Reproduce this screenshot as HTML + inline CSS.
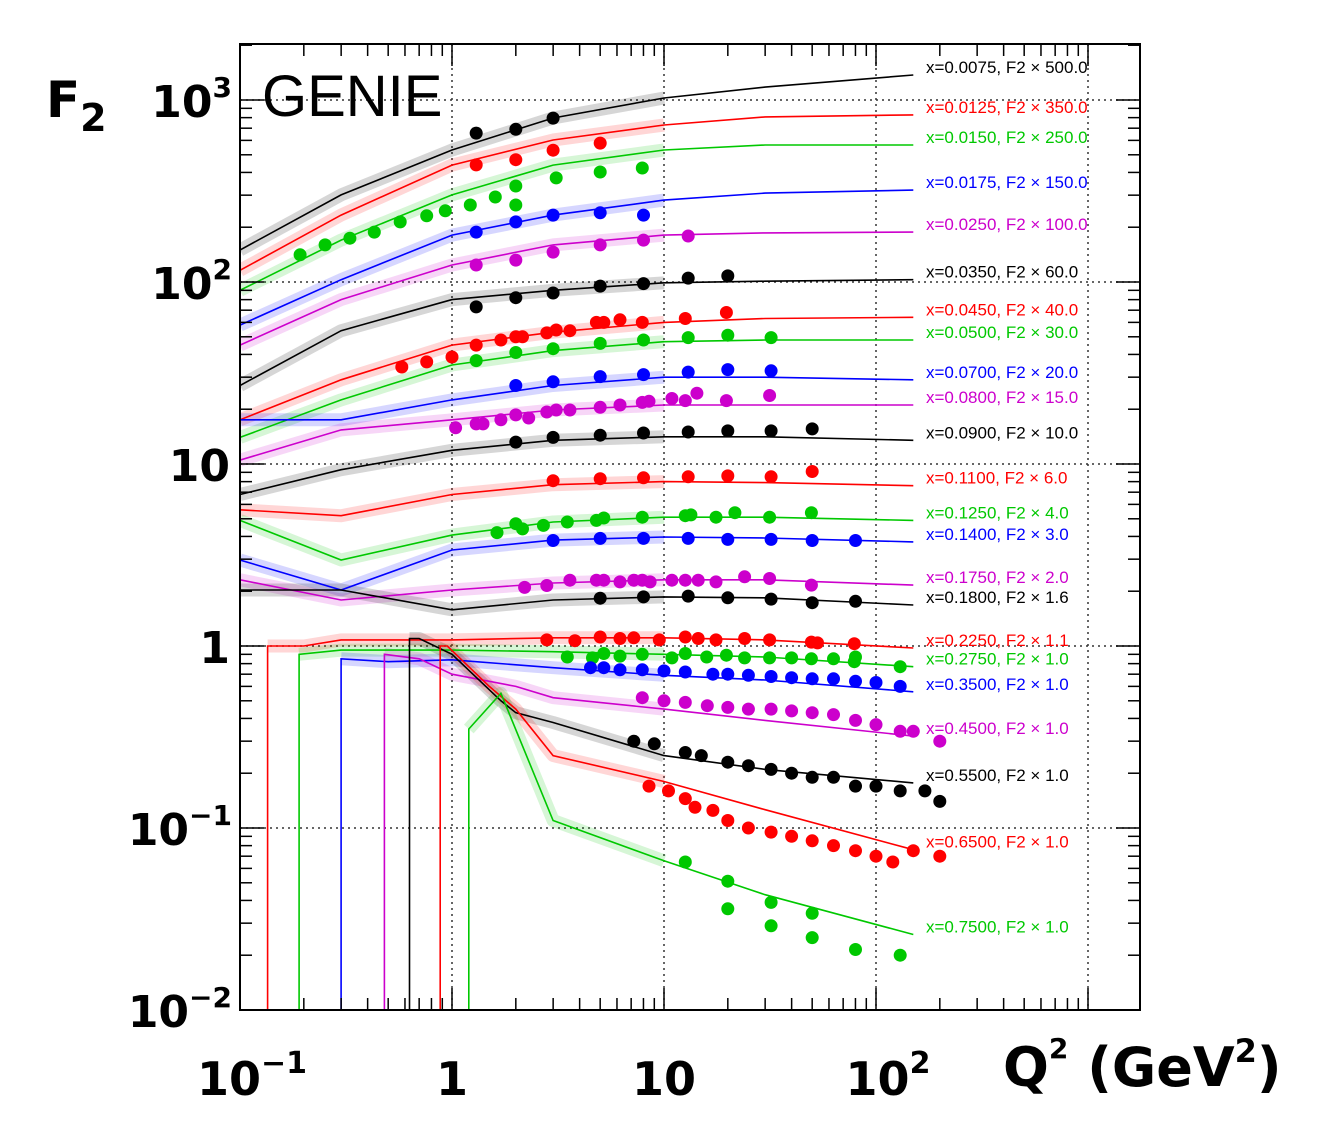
<!DOCTYPE html>
<html><head><meta charset="utf-8"><style>
body{margin:0;background:#fff;}
svg{display:block;font-family:"Liberation Sans","DejaVu Sans",sans-serif;}
.dj{font-family:"DejaVu Sans","Liberation Sans",sans-serif;}
</style></head><body>
<svg id="chart" width="1335" height="1122" viewBox="0 0 1335 1122">
<rect x="0" y="0" width="1335" height="1122" fill="#fff"/>
<defs><clipPath id="pc"><rect x="240" y="44" width="900" height="966"/></clipPath></defs>
<g id="grid"></g>
<g id="bands" clip-path="url(#pc)"></g>
<g id="curves" clip-path="url(#pc)"></g>
<g id="points" clip-path="url(#pc)"></g>
<g id="frame"></g>
<g id="labels"></g>
<text class="dj" x="46" y="117" font-size="50" font-weight="bold">F<tspan font-size="38" dy="14">2</tspan></text>
<text x="262" y="116" font-size="58">GENIE</text>
<text class="dj" x="1003" y="1086" font-size="54" font-weight="bold">Q<tspan font-size="28" dy="-28">2</tspan><tspan dy="28"> (GeV</tspan><tspan font-size="32" dy="-24">2</tspan><tspan dy="24">)</tspan></text>
</svg>
<script>
const colors=["#000","#ff0000","#00c800","#0000ff","#cc00cc"];
const xNames=["0.0075","0.0125","0.0150","0.0175","0.0250","0.0350","0.0450","0.0500","0.0700","0.0800","0.0900","0.1100","0.1250","0.1400","0.1750","0.1800","0.2250","0.2750","0.3500","0.4500","0.5500","0.6500","0.7500"];
const scales=["500.0","350.0","250.0","150.0","100.0","60.0","40.0","30.0","20.0","15.0","10.0","6.0","4.0","3.0","2.0","1.6","1.1","1.0","1.0","1.0","1.0","1.0","1.0"];
const gridQ=[0.1,0.3,1,3,10,30,150];
const curveQ=[
gridQ,gridQ,gridQ,gridQ,gridQ,gridQ,gridQ,gridQ,gridQ,gridQ,gridQ,gridQ,gridQ,gridQ,gridQ,gridQ,
[0.135,0.135,0.2,0.3,1,3,10,30,150],
[0.19,0.19,0.3,1,3,10,30,150],
[0.3,0.3,0.5,1,3,10,30,150],
[0.48,0.48,0.7,1,2,3,10,30,150],
[0.63,0.63,0.7,1,1.7,2,3,10,30,150],
[0.88,0.88,0.95,1.5,2,3,10,30,150],
[1.2,1.2,1.7,3,10,30,150]];
const curveV=[
[150,301,531,796,1026,1178,1372],
[116,233,439,603,729,807,828],
[90,170,301,439,531,566,566],
[58,103,181,233,282,308,320],
[45,80,124,160,181,186,188],
[27,54,80,90,99,101,103],
[17.5,29,45,53,60,63,64],
[14,22.5,35,42,47,48,48],
[17.5,17.5,22.5,27,30,30,29],
[10.5,15.4,17.5,19.8,21.1,21.1,21.1],
[6.8,9.3,11.9,13.5,14.1,14.1,13.5],
[5.6,5.2,6.8,7.7,8.0,7.9,7.6],
[4.9,2.97,4.07,4.8,5.1,5.1,4.9],
[2.97,2.03,3.37,3.82,3.97,3.92,3.73],
[2.31,1.79,2.03,2.22,2.31,2.31,2.16],
[2.03,2.03,1.58,1.79,1.86,1.84,1.68],
[0.005,1.0,1.0,1.08,1.08,1.11,1.11,1.08,0.975],
[0.005,0.9,0.95,0.95,0.93,0.90,0.87,0.77],
[0.005,0.85,0.82,0.84,0.76,0.69,0.65,0.56],
[0.005,0.9,0.85,0.7,0.6,0.52,0.45,0.39,0.32],
[0.005,1.1,1.1,0.9,0.5,0.43,0.38,0.25,0.21,0.177],
[0.005,1.0,1.0,0.6,0.45,0.25,0.18,0.126,0.076],
[0.005,0.35,0.55,0.11,0.066,0.043,0.026]];
const dataQ=[
[1.3,2,3],
[1.3,2,3,5],
[0.192,0.252,0.33,0.43,0.57,0.76,0.93,1.22,1.6,2,2,3.1,5,7.9],
[1.3,2,3,5,8],
[1.3,2,3,5,8,13],
[1.3,2,3,5,8,13,20],
[0.58,0.76,1,1.3,1.7,2,2.15,2.8,3.1,3.6,4.8,5.2,6.2,7.9,12.6,19.7],
[1.3,2,3,5,8,13,20,32],
[2,3,5,8,13,20,32],
[1.04,1.3,1.4,1.7,2,2.3,2.8,3.1,3.6,5,6.2,7.9,8.5,10.9,12.6,14.3,19.7,31.5],
[2,3,5,8,13,20,32,50],
[3,5,8,13,20,32,50],
[1.63,2,2.15,2.7,3.5,4.8,5.2,7.9,12.6,13.4,17.6,21.6,31.5,49.6],
[3,5,8,13,20,32,50,80],
[2.2,2.8,3.6,4.8,5.2,6.2,7.2,7.9,8.6,10.9,12.6,14.5,17.6,24,31.5,49.6],
[5,8,13,20,32,50,80],
[2.8,3.8,5,6.2,7.2,9.5,12.6,14.5,17.6,24,31.5,49.6,53,79],
[3.5,4.6,5.2,6.2,7.9,10.9,12.6,15.9,19.7,24,31.5,40,49.6,63,79,80,130],
[4.5,5.2,6.2,7.9,10,12.6,17,20,25,32,40,50,63,80,100,130],
[7.9,10,12.6,16,20,25,32,40,50,63,80,100,130,150,200],
[7.2,9,12.6,15,20,25,32,40,50,63,80,100,130,170,200],
[8.5,10.5,12.6,14,17,20,25,32,40,50,63,80,100,120,150,200],
[12.6,20,20,32,32,50,50,80,130]];
const dataV=[
[658,690,795],
[440,470,530,580],
[141,160,174,188,214,231,246,265,293,337,265,373,402,423],
[188,214,233,240,233],
[124,132,146,160,170,179],
[73,82,87,95,98,105,108],
[34.1,36.4,38.7,45,48,50,50,52.5,54.5,54,60,60,62,60,63,68],
[37,41,43,46,48,49.5,51,49.5],
[27,28.3,30.2,31,32,33,32.5],
[15.8,16.6,16.6,17.5,18.6,17.9,19.3,19.8,19.8,20.5,21.1,21.8,22.1,22.9,22.3,24.5,22.3,23.8],
[13.2,14.0,14.4,14.8,15.0,15.2,15.2,15.6],
[8.1,8.3,8.4,8.5,8.6,8.5,9.1],
[4.2,4.7,4.4,4.6,4.8,4.9,5.05,5.1,5.2,5.25,5.1,5.4,5.1,5.4],
[3.8,3.9,3.9,3.9,3.85,3.85,3.8,3.8],
[2.1,2.15,2.3,2.3,2.3,2.25,2.3,2.3,2.25,2.3,2.3,2.3,2.25,2.4,2.35,2.16],
[1.83,1.86,1.88,1.84,1.81,1.73,1.76],
[1.08,1.07,1.12,1.1,1.11,1.08,1.12,1.1,1.08,1.1,1.08,1.05,1.04,1.03],
[0.87,0.86,0.91,0.88,0.90,0.86,0.91,0.87,0.89,0.86,0.86,0.86,0.85,0.85,0.82,0.87,0.77],
[0.76,0.76,0.74,0.74,0.73,0.72,0.70,0.70,0.69,0.68,0.67,0.66,0.66,0.64,0.63,0.6],
[0.52,0.5,0.49,0.47,0.46,0.45,0.45,0.44,0.43,0.42,0.39,0.37,0.34,0.34,0.30],
[0.30,0.29,0.26,0.25,0.23,0.22,0.21,0.20,0.19,0.19,0.17,0.17,0.16,0.16,0.14],
[0.17,0.16,0.145,0.13,0.125,0.11,0.10,0.095,0.09,0.085,0.08,0.075,0.07,0.065,0.075,0.07],
[0.065,0.051,0.036,0.039,0.029,0.034,0.025,0.0215,0.02]];
const xTickVals=[0.1,1,10,100];
const xTickLabels=[["10","−1"],["1",""],["10",""],["10","2"]];
const yTickVals=[1000,100,10,1,0.1,0.01];
const yTickLabels=[["10","3"],["10","2"],["10",""],["1",""],["10","−1"],["10","−2"]];

const X0=240,X1=1140,Y0=44,Y1=1010,DX=212,DY=182;
function xS(q){return X0+DX*(Math.log10(q)+1);}
function yS(v){return 100+DY*(3-Math.log10(v));}
const NS="http://www.w3.org/2000/svg";
function mk(tag,parent,attrs){const e=document.createElementNS(NS,tag);for(const k in attrs)e.setAttribute(k,attrs[k]);parent.appendChild(e);return e;}
const gGrid=document.getElementById('grid'),gB=document.getElementById('bands'),gC=document.getElementById('curves'),gP=document.getElementById('points'),gF=document.getElementById('frame'),gL=document.getElementById('labels'),svg=document.getElementById('chart');

for(let p=0;p<4;p++){const q=Math.pow(10,p);const x=xS(q);
 const l=mk('line',gGrid,{x1:x,x2:x,y1:Y0,y2:Y1,stroke:'#333','stroke-width':1.5,'stroke-dasharray':'2,4'});
 }
for(let p=-2;p<=3;p++){const y=yS(Math.pow(10,p));
 const l=mk('line',gGrid,{x1:X0,x2:X1,y1:y,y2:y,stroke:'#333','stroke-width':1.5,'stroke-dasharray':'2,4'});
 }

for(let i=0;i<curveQ.length;i++){
 const c=colors[i%5];
 const pts=curveQ[i].map((q,j)=>xS(q).toFixed(1)+','+yS(curveV[i][j]).toFixed(1));
 const bandPts=curveQ[i].map((q,j)=>[q,j]).filter(a=>a[0]<=10&&curveV[i][a[1]]>0.006).map(a=>xS(a[0]).toFixed(1)+','+yS(curveV[i][a[1]]).toFixed(1));
 if(bandPts.length>1){const b=mk('polyline',gB,{points:bandPts.join(' '),fill:'none',stroke:c,'stroke-width':13,'stroke-opacity':0.16,'stroke-linejoin':'round'});
 }
 const l=mk('polyline',gC,{points:pts.join(' '),fill:'none',stroke:c,'stroke-width':1.6});
 
 const last=curveV[i][curveV[i].length-1];
 const t=mk('text',gL,{x:926,y:(yS(last)-2).toFixed(1),'font-size':17,fill:c});
 
 t.textContent='x='+xNames[i]+', F2 × '+scales[i];
}
for(let i=0;i<dataQ.length;i++){const c=colors[i%5];
 for(let j=0;j<dataQ[i].length;j++){
  const p=mk('circle',gP,{cx:xS(dataQ[i][j]).toFixed(1),cy:yS(dataV[i][j]).toFixed(1),r:6.5,fill:c});
  }}
const fr=mk('rect',gF,{x:X0,y:Y0,width:X1-X0,height:Y1-Y0,fill:'none',stroke:'#000','stroke-width':2});

for(let p=-1;p<4;p++)for(let m=1;m<10;m++){const x=xS(m*Math.pow(10,p));if(x>X1)continue;const len=m==1?22:12;
 const a=mk('line',gF,{x1:x,x2:x,y1:Y1,y2:Y1-len,stroke:'#000','stroke-width':1.5});
 const b=mk('line',gF,{x1:x,x2:x,y1:Y0,y2:Y0+len,stroke:'#000','stroke-width':1.5});}
for(let p=-2;p<4;p++)for(let m=1;m<10;m++){const y=yS(m*Math.pow(10,p));if(y<Y0||y>Y1)continue;const len=m==1?24:12;
 const a=mk('line',gF,{x1:X0,x2:X0+len,y1:y,y2:y,stroke:'#000','stroke-width':1.5});
 const b=mk('line',gF,{x1:X1,x2:X1-len,y1:y,y2:y,stroke:'#000','stroke-width':1.5});}
xTickVals.forEach((v,k)=>{const t=mk('text',svg,{x:xS(v)+(xTickLabels[k][1]?12:0),y:1095,'font-size':46,'font-weight':'bold','text-anchor':'middle','class':'dj'});
 
 t.innerHTML=xTickLabels[k][0]+(xTickLabels[k][1]?'<tspan font-size="30" dy="-22">'+xTickLabels[k][1]+'</tspan>':'');});
yTickVals.forEach((v,k)=>{const sup=yTickLabels[k][1];const t=mk('text',svg,{x:sup?232:230,y:yS(v)+17,'font-size':44,'font-weight':'bold','text-anchor':'end','class':'dj'});
 
 t.innerHTML=yTickLabels[k][0]+(sup?'<tspan font-size="28" dy="-20">'+sup+'</tspan>':'');});
</script>
</body></html>
